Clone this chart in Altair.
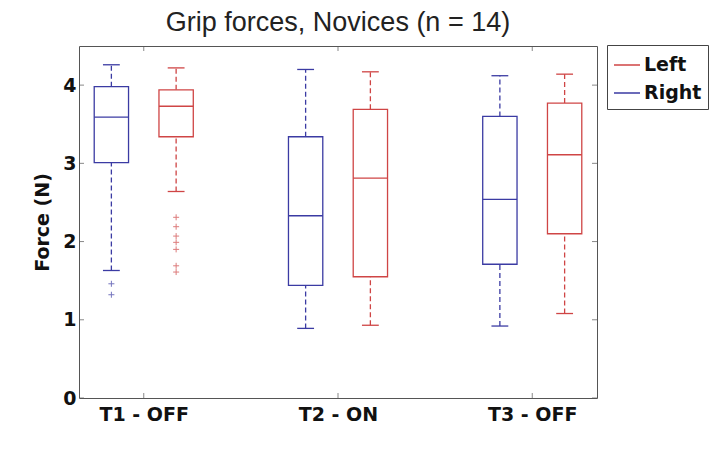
import json
import altair as alt
import pandas as pd

# ---- data ----
groups = ["T1 - OFF", "T2 - ON", "T3 - OFF"]
sides = ["Left", "Right"]

right_low = [1.63, 0.89, 0.92]
right_q1 = [3.01, 1.44, 1.71]
right_med = [3.59, 2.33, 2.54]
right_q3 = [3.98, 3.34, 3.60]
right_high = [4.26, 4.20, 4.12]

left_low = [2.64, 0.93, 1.08]
left_q1 = [3.34, 1.55, 2.10]
left_med = [3.73, 2.81, 3.11]
left_q3 = [3.94, 3.69, 3.77]
left_high = [4.22, 4.17, 4.14]

outlier_group = ["T1 - OFF"] * 9
outlier_side = ["Right", "Right", "Left", "Left", "Left", "Left", "Left", "Left", "Left"]
outlier_value = [1.46, 1.32, 2.31, 2.19, 2.07, 1.99, 1.90, 1.69, 1.61]

y_ticks = [0, 1, 2, 3, 4]

RED = "#cf4545"
BLUE = "#3b3ba3"

# ---- build tables ----
rows = []
for gi, g in enumerate(groups):
    for side, lo, q1, md, q3, hi in [
        ("Right", right_low, right_q1, right_med, right_q3, right_high),
        ("Left", left_low, left_q1, left_med, left_q3, left_high),
    ]:
        rows.append(dict(group=g, gi=gi, side=side, low=lo[gi], q1=q1[gi],
                         med=md[gi], q3=q3[gi], high=hi[gi]))
df = pd.DataFrame(rows)

odf = pd.DataFrame(dict(group=outlier_group, side=outlier_side, value=outlier_value))
odf["gi"] = odf["group"].map({g: i for i, g in enumerate(groups)})

pos_expr = "3*datum.gi + (datum.side == 'Right' ? 1 : 2)"
group_ticks = [3 * i + 1.5 for i in range(len(groups))]
xtick_df = pd.DataFrame({"v": group_ticks})
ytick_df = pd.DataFrame({"v": y_ticks})

FONT_B = "DejaVu Sans"

xs = alt.Scale(domain=[0.5, 3 * len(groups) - 0.5], nice=False, zero=False)
ys = alt.Scale(domain=[0, 4.5], nice=False, zero=False)

xa = alt.Axis(values=group_ticks, title=None, grid=False, domain=False, ticks=False,
              tickSize=0, labelPadding=7,
              labelExpr=f"{json.dumps(groups)}[round((datum.value - 1.5) / 3)]",
              labelFont=FONT_B, labelFontSize=19, labelFontWeight="bold", labelColor="#111")
ya = alt.Axis(values=y_ticks, title="Force (N)", grid=False, domain=False, ticks=False,
              tickSize=0, labelPadding=3, labelFont=FONT_B, labelFontSize=19,
              labelFontWeight="bold", labelColor="#111", titleFont=FONT_B,
              titleFontSize=19, titleFontWeight="bold", titleColor="#111", titlePadding=10)

def X(field):
    return alt.X(field, scale=xs, axis=xa)

def Y(field):
    return alt.Y(field, scale=ys, axis=ya)

color_scale = alt.Scale(domain=sides, range=[RED, BLUE])
legend = alt.Legend(
    title=None, orient="none", legendX=528, legendY=-1, symbolType="stroke",
    symbolSize=676, symbolStrokeWidth=1.5, symbolDash=[1, 0], labelFont=FONT_B,
    labelFontSize=19, labelFontWeight="bold", labelColor="#111", labelOffset=3,
    rowPadding=4, padding=6, strokeColor="#444", fillColor="white", cornerRadius=0)

def S():
    return alt.Stroke("side:N", scale=color_scale, legend=legend)

base = alt.Chart(df).transform_calculate(
    pos=pos_expr,
).transform_calculate(
    xl="datum.pos - 0.265", xr="datum.pos + 0.265",
    cl="datum.pos - 0.13", cr="datum.pos + 0.13",
)

boxes = base.mark_rect(fill="white", strokeWidth=1.3).encode(
    x=X("xl:Q"), x2="xr:Q", y=Y("q1:Q"), y2="q3:Q", stroke=S())
upper = base.mark_rule(strokeWidth=1.3, strokeDash=[5, 3]).encode(
    x=X("pos:Q"), y=Y("q3:Q"), y2="high:Q", stroke=S())
lower = base.mark_rule(strokeWidth=1.3, strokeDash=[5, 3]).encode(
    x=X("pos:Q"), y=Y("low:Q"), y2="q1:Q", stroke=S())
cap_hi = base.mark_rule(strokeWidth=1.3).encode(
    x=X("cl:Q"), x2="cr:Q", y=Y("high:Q"), stroke=S())
cap_lo = base.mark_rule(strokeWidth=1.3).encode(
    x=X("cl:Q"), x2="cr:Q", y=Y("low:Q"), stroke=S())
median = base.mark_rule(strokeWidth=1.3).encode(
    x=X("xl:Q"), x2="xr:Q", y=Y("med:Q"), stroke=S())

outliers = alt.Chart(odf).transform_calculate(pos=pos_expr).mark_point(
    shape="M-1,0H1M0,-1V1", size=36, filled=False, strokeWidth=1).encode(
    x=X("pos:Q"), y=Y("value:Q"), stroke=S())

TICK = "#555"
tick_bottom = alt.Chart(xtick_df).mark_tick(orient="vertical", size=10, thickness=1,
                                            clip=True, color=TICK).encode(
    x=X("v:Q"), y=alt.YDatum(0, scale=ys, axis=ya))
tick_top = alt.Chart(xtick_df).mark_tick(orient="vertical", size=10, thickness=1,
                                         clip=True, color=TICK).encode(
    x=X("v:Q"), y=alt.YDatum(4.5, scale=ys, axis=ya))
tick_left = alt.Chart(ytick_df).mark_tick(orient="horizontal", size=10, thickness=1,
                                          clip=True, color=TICK).encode(
    y=Y("v:Q"), x=alt.XDatum(0.5, scale=xs, axis=xa))
tick_right = alt.Chart(ytick_df).mark_tick(orient="horizontal", size=10, thickness=1,
                                           clip=True, color=TICK).encode(
    y=Y("v:Q"), x=alt.XDatum(8.5, scale=xs, axis=xa))

chart = alt.layer(
    tick_bottom, tick_top, tick_left, tick_right,
    upper, lower, boxes, cap_hi, cap_lo, median, outliers,
).properties(
    width=518, height=352,
    title=alt.Title("Grip forces, Novices (n = 14)", font="Liberation Sans", fontSize=27,
                    fontWeight="normal", color="#222", anchor="middle", offset=8),
    autosize=alt.AutoSizeParams(type="none"),
    padding={"left": 71, "top": 38, "right": 118, "bottom": 58},
    background="white",
).configure_view(stroke="#555", strokeWidth=1)

chart.save("out.html", embed_options={"renderer": "svg", "actions": False})
